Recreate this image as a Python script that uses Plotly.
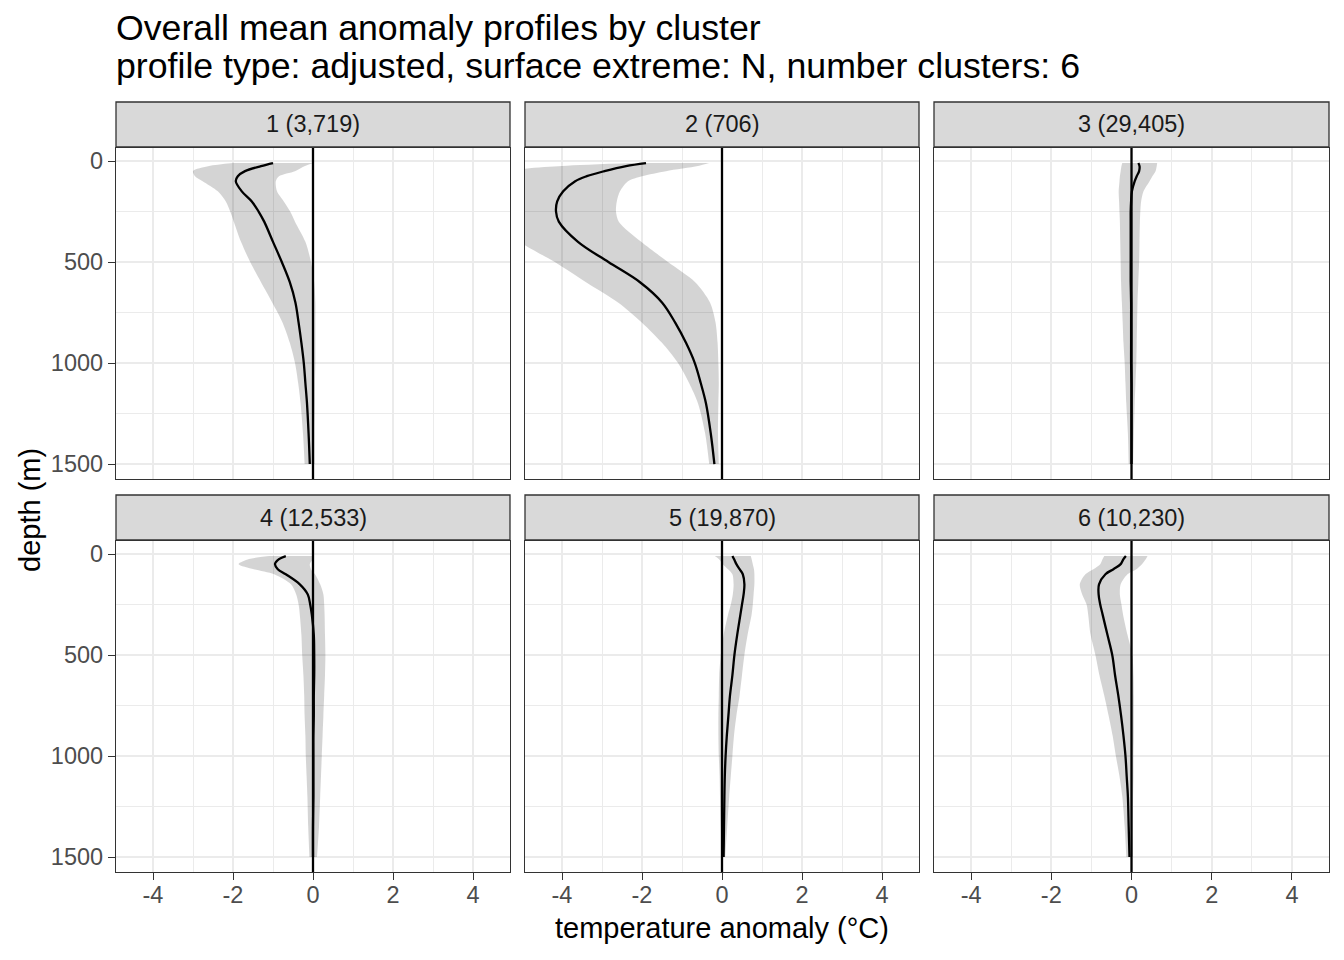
import plotly.graph_objects as go

W, H = 1344, 960

# ---------------- data ----------------
depth = [10, 25, 50, 75, 100, 150, 200, 250, 300, 400, 500, 600, 700, 800, 900, 1000, 1100, 1200, 1350, 1500]

cluster_ids = [1, 2, 3, 4, 5, 6]
cluster_counts = ["3,719", "706", "29,405", "12,533", "19,870", "10,230"]

mean_1 = [-1.0, -1.3, -1.7, -1.88, -1.93, -1.78, -1.53, -1.36, -1.22, -1.0, -0.78, -0.58, -0.44, -0.36, -0.29, -0.23, -0.19, -0.15, -0.11, -0.08]
lower_1 = [-2.0, -2.6, -3.0, -2.95, -2.76, -2.38, -2.18, -2.07, -1.98, -1.8, -1.57, -1.3, -1.02, -0.76, -0.58, -0.45, -0.37, -0.31, -0.25, -0.21]
upper_1 = [0.0, -0.2, -0.45, -0.85, -0.93, -0.9, -0.73, -0.57, -0.45, -0.19, -0.05, 0.03, 0.06, 0.06, 0.06, 0.06, 0.05, 0.05, 0.04, 0.04]

mean_2 = [-1.9, -2.4, -2.94, -3.38, -3.67, -3.97, -4.12, -4.15, -4.08, -3.6, -2.84, -2.05, -1.5, -1.17, -0.9, -0.68, -0.53, -0.4, -0.28, -0.19]
lower_2 = [-2.2, -4.0, -5.2, -5.3, -5.2, -5.5, -5.65, -5.65, -5.6, -5.05, -4.18, -3.4, -2.6, -2.0, -1.5, -1.1, -0.82, -0.6, -0.42, -0.32]
upper_2 = [-0.32, -0.6, -1.4, -2.0, -2.35, -2.55, -2.63, -2.65, -2.58, -2.02, -1.35, -0.67, -0.3, -0.16, -0.11, -0.09, -0.08, -0.09, -0.1, -0.08]

mean_3 = [0.17, 0.2, 0.19, 0.13, 0.08, 0.01, -0.01, -0.02, -0.02, -0.02, -0.02, -0.02, -0.01, -0.01, -0.01, -0.01, 0.0, 0.0, 0.0, 0.0]
lower_3 = [-0.23, -0.25, -0.27, -0.29, -0.3, -0.32, -0.31, -0.3, -0.29, -0.28, -0.27, -0.26, -0.24, -0.22, -0.2, -0.17, -0.15, -0.13, -0.09, -0.07]
upper_3 = [0.64, 0.63, 0.6, 0.52, 0.45, 0.3, 0.24, 0.22, 0.21, 0.2, 0.19, 0.17, 0.15, 0.14, 0.13, 0.12, 0.1, 0.08, 0.06, 0.04]

mean_4 = [-0.68, -0.85, -0.95, -0.88, -0.68, -0.33, -0.13, -0.07, -0.03, 0.02, 0.03, 0.03, 0.02, 0.02, 0.01, 0.01, 0.01, 0.01, 0.0, 0.0]
lower_4 = [-1.1, -1.6, -1.86, -1.48, -0.97, -0.55, -0.42, -0.36, -0.33, -0.29, -0.27, -0.24, -0.22, -0.21, -0.19, -0.18, -0.16, -0.14, -0.12, -0.09]
upper_4 = [0.02, 0.0, -0.08, -0.05, 0.05, 0.18, 0.26, 0.28, 0.29, 0.3, 0.31, 0.3, 0.28, 0.26, 0.24, 0.22, 0.2, 0.18, 0.15, 0.1]

mean_5 = [0.26, 0.3, 0.36, 0.44, 0.52, 0.56, 0.54, 0.5, 0.46, 0.38, 0.31, 0.26, 0.2, 0.16, 0.12, 0.09, 0.07, 0.06, 0.05, 0.04]
lower_5 = [-0.18, -0.08, 0.02, 0.15, 0.26, 0.29, 0.27, 0.22, 0.15, 0.04, -0.03, -0.07, -0.08, -0.09, -0.09, -0.08, -0.06, -0.05, -0.03, -0.01]
upper_5 = [0.72, 0.74, 0.77, 0.8, 0.81, 0.81, 0.79, 0.77, 0.74, 0.64, 0.56, 0.5, 0.44, 0.36, 0.3, 0.26, 0.22, 0.18, 0.13, 0.08]

mean_6 = [-0.14, -0.2, -0.27, -0.45, -0.65, -0.81, -0.82, -0.78, -0.72, -0.6, -0.48, -0.41, -0.33, -0.26, -0.2, -0.15, -0.12, -0.09, -0.07, -0.05]
lower_6 = [-0.68, -0.72, -0.78, -0.95, -1.15, -1.29, -1.23, -1.12, -1.08, -1.02, -0.9, -0.8, -0.68, -0.57, -0.47, -0.39, -0.3, -0.23, -0.17, -0.13]
upper_6 = [0.4, 0.36, 0.26, 0.12, -0.1, -0.27, -0.29, -0.25, -0.21, -0.1, 0.02, 0.05, 0.06, 0.06, 0.06, 0.05, 0.05, 0.04, 0.03, 0.03]

means = [mean_1, mean_2, mean_3, mean_4, mean_5, mean_6]
lowers = [lower_1, lower_2, lower_3, lower_4, lower_5, lower_6]
uppers = [upper_1, upper_2, upper_3, upper_4, upper_5, upper_6]

x_ticks = [-4, -2, 0, 2, 4]
x_tick_labels = ["-4", "-2", "0", "2", "4"]
x_minor_ticks = [-3, -1, 1, 3]
y_ticks = [0, 500, 1000, 1500]
y_tick_labels = ["0", "500", "1000", "1500"]
y_minor_ticks = [250, 750, 1250]
x_range = [-4.925, 4.925]
y_range = [1574, -64.5]
vline_x = 0

title_line1 = "Overall mean anomaly profiles by cluster"
title_line2 = "profile type: adjusted, surface extreme: N, number clusters: 6"
x_title = "temperature anomaly (°C)"
y_title = "depth (m)"

# ---------------- layout geometry (pixels) ----------------
col_px = [(116, 510), (525, 919), (934, 1329)]
panel_row_px = [(148, 479), (541, 872)]
strip_row_px = [(102, 147), (495, 540)]

FONT = "Liberation Sans, Arial, Helvetica, sans-serif"
GRID = "#EBEBEB"
BORDER = "#333333"
RIBBON = "rgba(0,0,0,0.17)"


def px_x(p):
    return p / W


def px_y(p):
    return 1 - p / H


fig = go.Figure()
layout = dict(
    width=W, height=H,
    margin=dict(l=0, r=0, t=0, b=0),
    paper_bgcolor="white", plot_bgcolor="white",
    showlegend=False,
    font=dict(family=FONT),
    shapes=[], annotations=[],
)

for i in range(6):
    r, c = divmod(i, 3)
    n = i + 1
    xa = "x" if n == 1 else f"x{n}"
    ya = "y" if n == 1 else f"y{n}"
    # ribbon: lower then upper filled to it
    fig.add_trace(go.Scatter(x=lowers[i], y=depth, mode="lines", xaxis=xa, yaxis=ya,
                             line=dict(width=0, shape="spline", smoothing=0.8, color=RIBBON),
                             hoverinfo="skip"))
    fig.add_trace(go.Scatter(x=uppers[i], y=depth, mode="lines", xaxis=xa, yaxis=ya,
                             fill="tonextx", fillcolor=RIBBON,
                             line=dict(width=0, shape="spline", smoothing=0.8, color=RIBBON),
                             hoverinfo="skip"))
    fig.add_trace(go.Scatter(x=means[i], y=depth, mode="lines", xaxis=xa, yaxis=ya,
                             line=dict(width=2.3, color="black", shape="spline", smoothing=1.0)))

    bottom = (r == 1)
    left = (c == 0)
    x0p, x1p = col_px[c]
    y0p, y1p = panel_row_px[r]
    xkey = "xaxis" if n == 1 else f"xaxis{n}"
    ykey = "yaxis" if n == 1 else f"yaxis{n}"
    layout[xkey] = dict(
        domain=[px_x(x0p), px_x(x1p)], anchor=ya, range=x_range,
        tickmode="array", tickvals=x_ticks, ticktext=x_tick_labels,
        showticklabels=bottom, ticks="outside" if bottom else "",
        ticklen=7, tickwidth=1.3, tickcolor=BORDER, ticklabelstandoff=-5,
        tickfont=dict(size=23.5, color="#4D4D4D", family=FONT),
        showgrid=True, gridcolor=GRID, gridwidth=2,
        minor=dict(tickmode="array", tickvals=x_minor_ticks, showgrid=True,
                   gridcolor=GRID, gridwidth=1, ticks=""),
        showline=True, mirror=True, linecolor=BORDER, linewidth=1.3,
        zeroline=False, fixedrange=True,
    )
    layout[ykey] = dict(
        domain=[px_y(y1p), px_y(y0p)], anchor=xa, range=y_range,
        tickmode="array", tickvals=y_ticks, ticktext=y_tick_labels,
        showticklabels=left, ticks="outside" if left else "",
        ticklen=7, tickwidth=1.3, tickcolor=BORDER,
        tickfont=dict(size=23.5, color="#4D4D4D", family=FONT),
        showgrid=True, gridcolor=GRID, gridwidth=2,
        minor=dict(tickmode="array", tickvals=y_minor_ticks, showgrid=True,
                   gridcolor=GRID, gridwidth=1, ticks=""),
        showline=True, mirror=True, linecolor=BORDER, linewidth=1.3,
        zeroline=False, fixedrange=True,
    )
    # vertical reference line at 0
    layout["shapes"].append(dict(type="line", xref=xa, yref=f"{ya} domain",
                                 x0=vline_x, x1=vline_x, y0=0, y1=1,
                                 line=dict(color="black", width=2.3), layer="above"))
    # strip
    s0, s1 = strip_row_px[r]
    layout["shapes"].append(dict(type="rect", xref="paper", yref="paper",
                                 x0=px_x(x0p), x1=px_x(x1p), y0=px_y(s1), y1=px_y(s0),
                                 fillcolor="#D9D9D9", line=dict(color=BORDER, width=1.3),
                                 layer="above"))
    layout["annotations"].append(dict(
        text=f"{cluster_ids[i]} ({cluster_counts[i]})", xref="paper", yref="paper",
        x=px_x((x0p + x1p) / 2), y=px_y((s0 + s1) / 2), xanchor="center", yanchor="middle",
        showarrow=False, font=dict(size=23.5, color="#1A1A1A", family=FONT)))

# titles
layout["annotations"].append(dict(text=title_line1, xref="paper", yref="paper",
                                  x=px_x(114), y=px_y(28), xanchor="left", yanchor="middle",
                                  showarrow=False, font=dict(size=35.7, color="black", family=FONT)))
layout["annotations"].append(dict(text=title_line2, xref="paper", yref="paper",
                                  x=px_x(114), y=px_y(66), xanchor="left", yanchor="middle",
                                  showarrow=False, font=dict(size=35.7, color="black", family=FONT)))
layout["annotations"].append(dict(text=x_title, xref="paper", yref="paper",
                                  x=px_x(722), y=px_y(928), xanchor="center", yanchor="middle",
                                  showarrow=False, font=dict(size=29, color="black", family=FONT)))
layout["annotations"].append(dict(text=y_title, xref="paper", yref="paper",
                                  x=px_x(30), y=px_y(510), xanchor="center", yanchor="middle",
                                  textangle=-90, showarrow=False,
                                  font=dict(size=29, color="black", family=FONT)))

fig.update_layout(**layout)
fig.write_html("out.html", config={"displayModeBar": False},
               post_script="document.body.style.margin='0';document.body.style.overflow='hidden';")
